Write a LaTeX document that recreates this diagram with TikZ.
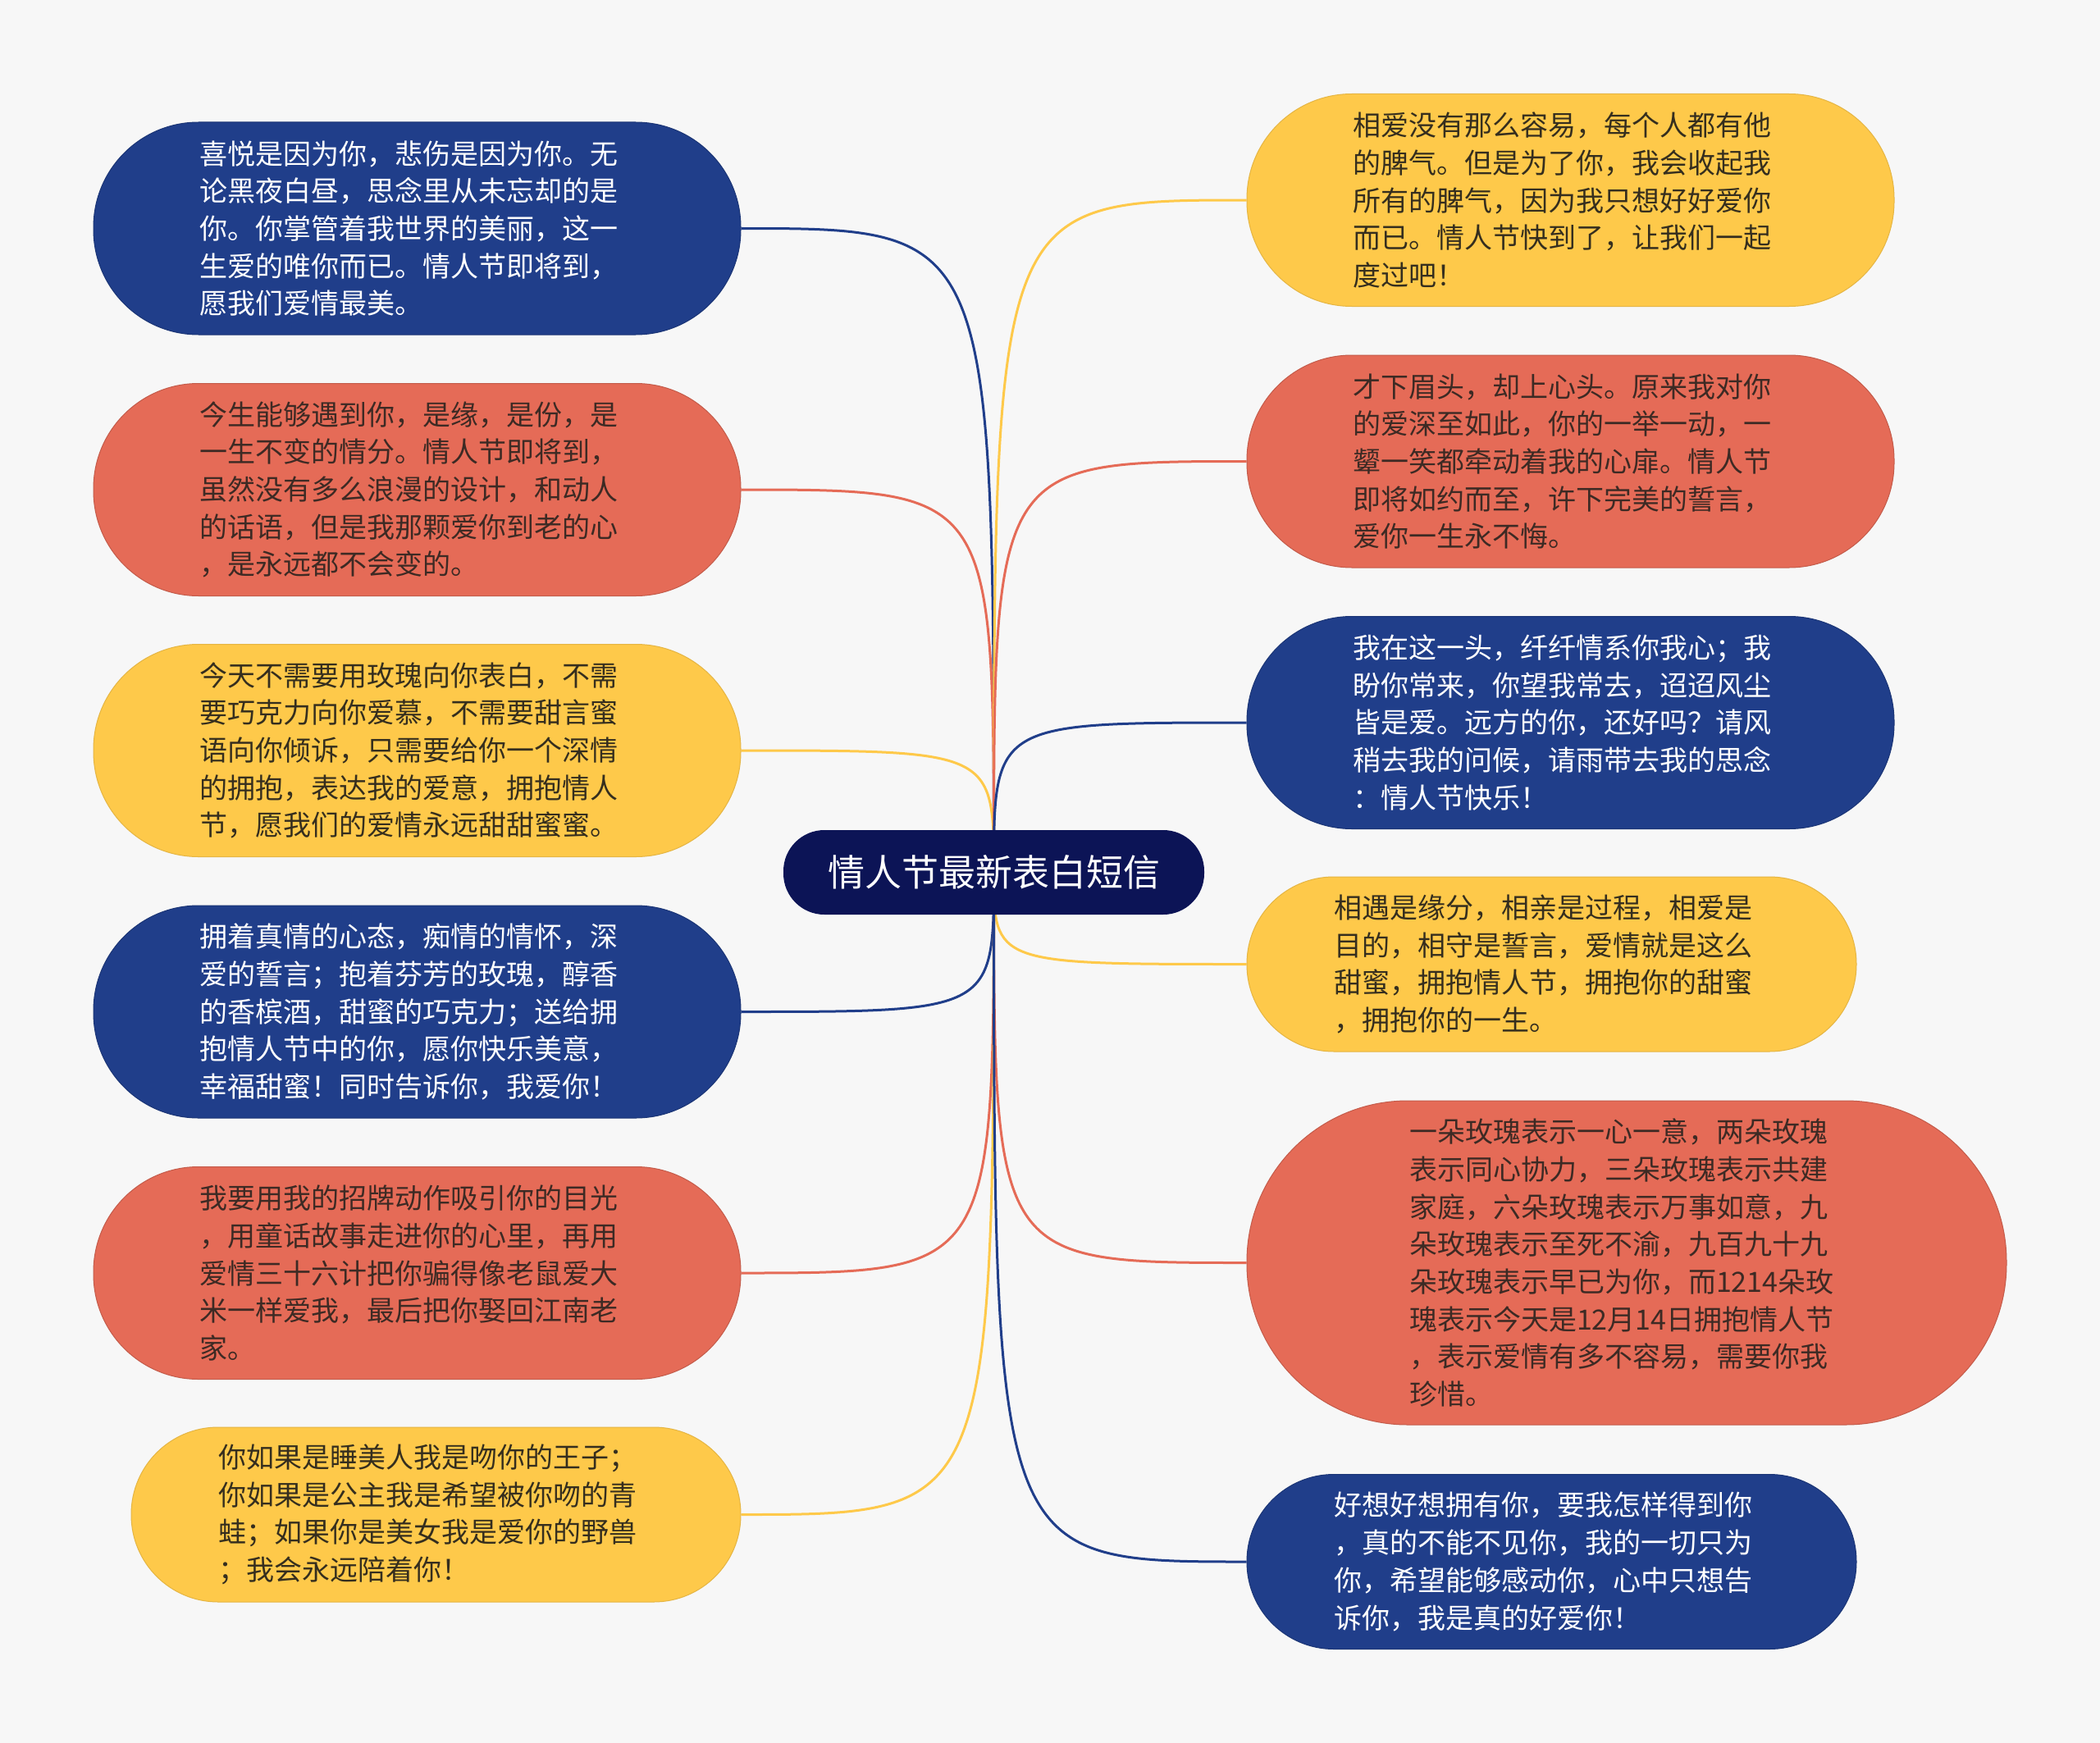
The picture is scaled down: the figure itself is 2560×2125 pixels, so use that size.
\documentclass[tikz,border=0pt]{standalone}
\usepackage{fontspec}
\newfontfamily\cjk{Noto Sans CJK SC}
\usetikzlibrary{backgrounds}
\definecolor{bg}{HTML}{F7F7F7}
\definecolor{cblue}{HTML}{203E8A}
\definecolor{cred}{HTML}{E56B57}
\definecolor{cyel}{HTML}{FEC94A}
\definecolor{cnavy}{HTML}{0C1456}
\definecolor{tred}{HTML}{3D2A24}
\definecolor{tyel}{HTML}{352E1E}
\tikzset{
  bub/.style={inner sep=0pt, align=left, text width=265pt, font=\cjk\fontsize{17pt}{22.85pt}\selectfont},
  bluebub/.style={bub, fill=cblue, draw=cblue!85!black, line width=0.5pt, text=white},
  redbub/.style={bub, fill=cred, draw=cred!85!black, line width=0.5pt, text=tred},
  yelbub/.style={bub, fill=cyel, draw=cyel!90!black, line width=0.5pt, text=tyel},
  big/.style={minimum width=394.5pt, minimum height=129.5pt, rounded corners=64pt},
  small/.style={minimum width=371.5pt, minimum height=106.5pt, rounded corners=53pt},
  link/.style={line width=1.5pt},
}
\begin{document}
\begin{tikzpicture}[x=0.5pt,y=-0.5pt]
\useasboundingbox (0,0) rectangle (2560,2125);

\node[fill=cnavy, text=white, inner sep=0pt, minimum width=256.5pt, minimum height=51.5pt,
  rounded corners=25pt, font=\cjk\fontsize{22.5pt}{27pt}\selectfont] (C) at (1211.5,1063.5) {情人节最新表白短信};

\node[bluebub, big] (L1) at (508.5,278.5) {喜悦是因为你，悲伤是因为你。无\\论黑夜白昼，思念里从未忘却的是\\你。你掌管着我世界的美丽，这一\\生爱的唯你而已。情人节即将到，\\愿我们爱情最美。};
\node[redbub, big] (L2) at (508.5,597) {今生能够遇到你，是缘，是份，是\\一生不变的情分。情人节即将到，\\虽然没有多么浪漫的设计，和动人\\的话语，但是我那颗爱你到老的心\\，是永远都不会变的。};
\node[yelbub, big] (L3) at (508.5,915) {今天不需要用玫瑰向你表白，不需\\要巧克力向你爱慕，不需要甜言蜜\\语向你倾诉，只需要给你一个深情\\的拥抱，表达我的爱意，拥抱情人\\节，愿我们的爱情永远甜甜蜜蜜。};
\node[bluebub, big] (L4) at (508.5,1233.5) {拥着真情的心态，痴情的情怀，深\\爱的誓言；抱着芬芳的玫瑰，醇香\\的香槟酒，甜蜜的巧克力；送给拥\\抱情人节中的你，愿你快乐美意，\\幸福甜蜜！同时告诉你，我爱你！};
\node[redbub, big] (L5) at (508.5,1552) {我要用我的招牌动作吸引你的目光\\，用童话故事走进你的心里，再用\\爱情三十六计把你骗得像老鼠爱大\\米一样爱我，最后把你娶回江南老\\家。};
\node[yelbub, small] (L6) at (531.5,1846.5) {你如果是睡美人我是吻你的王子；\\你如果是公主我是希望被你吻的青\\蛙；如果你是美女我是爱你的野兽\\；我会永远陪着你！};

\node[yelbub, big] (R1) at (1914.5,244) {相爱没有那么容易，每个人都有他\\的脾气。但是为了你，我会收起我\\所有的脾气，因为我只想好好爱你\\而已。情人节快到了，让我们一起\\度过吧！};
\node[redbub, big] (R2) at (1914.5,562.5) {才下眉头，却上心头。原来我对你\\的爱深至如此，你的一举一动，一\\颦一笑都牵动着我的心扉。情人节\\即将如约而至，许下完美的誓言，\\爱你一生永不悔。};
\node[bluebub, big] (R3) at (1914.5,881) {我在这一头，纤纤情系你我心；我\\盼你常来，你望我常去，迢迢风尘\\皆是爱。远方的你，还好吗？请风\\稍去我的问候，请雨带去我的思念\\：情人节快乐！};
\node[yelbub, small] (R4) at (1891.5,1175.5) {相遇是缘分，相亲是过程，相爱是\\目的，相守是誓言，爱情就是这么\\甜蜜，拥抱情人节，拥抱你的甜蜜\\，拥抱你的一生。};
\node[redbub, minimum width=463pt, minimum height=197.5pt, rounded corners=98pt] (R5) at (1983,1539.5) {一朵玫瑰表示一心一意，两朵玫瑰\\表示同心协力，三朵玫瑰表示共建\\家庭，六朵玫瑰表示万事如意，九\\朵玫瑰表示至死不渝，九百九十九\\朵玫瑰表示早已为你，而1214朵玫\\瑰表示今天是12月14日拥抱情人节\\，表示爱情有多不容易，需要你我\\珍惜。};
\node[bluebub, small] (R6) at (1891.5,1904) {好想好想拥有你，要我怎样得到你\\，真的不能不见你，我的一切只为\\你，希望能够感动你，心中只想告\\诉你，我是真的好爱你！};

\begin{pgfonlayer}{background}
\fill[bg] (0,0) rectangle (2560,2125);
\foreach \n/\c in {L1/cblue,L2/cred,L3/cyel,L4/cblue,L5/cred,L6/cyel}{
  \draw[link, draw=\c] (C.center) .. controls (C.center |- \n.east) and (C.center |- \n.east) .. (\n.east);
}
\foreach \n/\c in {R1/cyel,R2/cred,R3/cblue,R4/cyel,R5/cred,R6/cblue}{
  \draw[link, draw=\c] (C.center) .. controls (C.center |- \n.west) and (C.center |- \n.west) .. (\n.west);
}
\end{pgfonlayer}
\end{tikzpicture}
\end{document}
